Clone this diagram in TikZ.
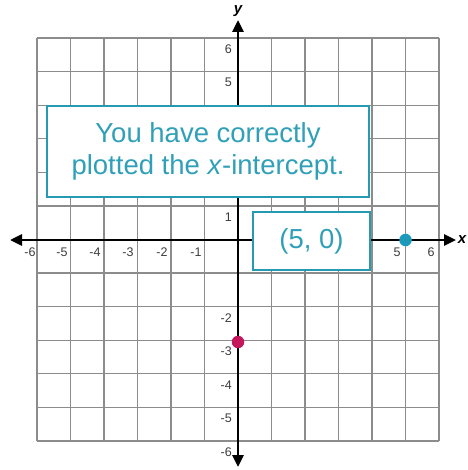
\documentclass[tikz,border=0pt]{standalone}
\usepackage{fontspec}
\setmainfont{Liberation Sans}
\usetikzlibrary{arrows.meta}
\definecolor{teal1}{RGB}{38,154,178}
\definecolor{tealtxt}{RGB}{48,160,184}
\definecolor{dotblue}{RGB}{27,155,185}
\definecolor{dotred}{RGB}{196,24,92}
\definecolor{gridgray}{RGB}{140,140,140}
\definecolor{ticktxt}{RGB}{60,60,60}
\tikzset{
  gridline/.style={draw=gridgray, line width=1.2pt},
  axisline/.style={draw=black, line width=2.8pt, {Triangle[length=12pt,width=11pt]}-{Triangle[length=12pt,width=11pt]}},
  msgbox/.style={draw=teal1, line width=2pt, fill=white, text=tealtxt, align=center, inner sep=0pt,
    font=\fontsize{27.5}{31.5}\selectfont},
  xtick/.style={text=ticktxt, font=\fontsize{12.5}{14}\selectfont, inner sep=0pt},
  ytick/.style={text=ticktxt, font=\fontsize{12.5}{14}\selectfont, inner sep=0pt, anchor=east},
  axlabel/.style={font=\fontsize{15}{17}\selectfont\bfseries\itshape, inner sep=0pt},
  dot/.style={circle, inner sep=0pt, minimum size=12.5pt}
}
\begin{document}
\begin{tikzpicture}[x=1pt,y=-1pt]
\useasboundingbox (0,0) rectangle (467,470);
% grid
\foreach \i in {0,...,12} {
  \draw[gridline] ({37+33.5*\i},38) -- ({37+33.5*\i},441);
  \draw[gridline] (37,{38+33.583*\i}) -- (439,{38+33.583*\i});
}
% axes
\coordinate (xl) at (10,240);
\coordinate (xr) at (456,240);
\coordinate (yt) at (238,20);
\coordinate (yb) at (238,467);
\draw[axisline] (xl) -- (xr);
\draw[axisline] (yb) -- (yt);
\node[axlabel] (xlab) at (462,240) {x};
\node[axlabel] (ylab) at (238,11) {y};
% x tick labels
\foreach \v/\px in {-6/30,-5/62,-4/95,-3/128,-2/162,-1/196,5/397,6/431} {
  \node[xtick] (xt\v) at (\px,252) {\v};
}
% y tick labels
\foreach \v in {6,5,1,-2,-3,-4,-5,-6} {
  \node[ytick] (yt\v) at (232,{240-33.583*\v+10.5}) {\v};
}
% message boxes
\node[msgbox, minimum width=322pt, minimum height=91pt] (msg) at (208,151.5)
  {You have correctly\\plotted the \textit{x}-intercept.};
\node[msgbox, minimum width=117pt, minimum height=58pt] (pt) at (311.5,241) {(5, 0)};
% points
\node[dot, fill=dotblue] (pblue) at (405.5,240) {};
\node[dot, fill=dotred] (pred) at (238,342) {};
\end{tikzpicture}
\end{document}
